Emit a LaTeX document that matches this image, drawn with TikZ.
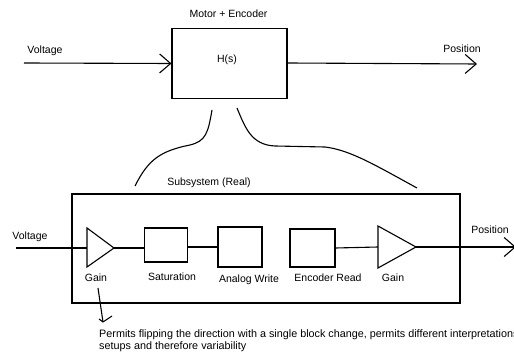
\documentclass[tikz,border=0pt]{standalone}
\usepackage{fontspec}
\setmainfont{Liberation Sans}
\usetikzlibrary{arrows.meta}
\begin{document}
\begin{tikzpicture}[x=1pt,y=-1pt,
  every node/.style={font=\fontsize{10.5}{12.5}\selectfont, inner sep=0pt},
  ln/.style={line width=1.1pt},
  blk/.style={draw, line width=1.1pt, minimum width=#1, inner sep=0pt},
  arr/.style={ln, -{Straight Barb[length=11pt,width=19pt,line width=1.1pt]}}]
\useasboundingbox (0,0) rectangle (514,355);
\clip (0,0) rectangle (514,355);
% top
\node[blk=115pt, minimum height=70pt] (H) at (229.5,63.5) {};
\node (Hs) at (227,60) {H(s)};
\node (mt) at (228.5,14) {Motor + Encoder};
\coordinate (vin) at (24,63);
\coordinate (pout) at (477,64);
\draw[arr] (vin) -- (H.west);
\draw[arr] (H.east |- 63,63) -- (pout);
\node (vt) at (45,51) {Voltage};
\node (pt) at (462,49) {Position};
% curves
\coordinate (c1a) at (212,110);
\coordinate (c1b) at (135,186);
\coordinate (c2a) at (237,108);
\coordinate (c2b) at (417,188);
\draw[ln] (c1a) .. controls (208,133) and (206,141) .. (190,145) .. controls (160,151) and (148,160) .. (c1b);
\draw[ln] (c2a) .. controls (245,127) and (251,145) .. (275,146) -- (325,147) .. controls (350,150) and (375,165) .. (c2b);
% subsystem
\node[blk=388pt, minimum height=109pt] (sub) at (266,248.5) {};
\node (subt) at (209,183) {Subsystem (Real)};
% gains
\coordinate (g1l) at (87,248);
\coordinate (g1t) at (114,248);
\draw[ln, line join=miter] (87,228) -- (g1t) -- (87,267) -- cycle;
\coordinate (g2l) at (378,247);
\coordinate (g2t) at (416,247);
\draw[ln, line join=miter] (378,226) -- (g2t) -- (378,268) -- cycle;
% boxes
\node[blk=43pt, minimum height=34pt] (sat) at (166,245) {};
\node[blk=44pt, minimum height=40pt] (aw) at (240,247) {};
\node[blk=45pt, minimum height=38pt] (er) at (312.5,248) {};
% connectors
\coordinate (vin2) at (16,248);
\coordinate (pout2) at (516,247);
\draw[ln] (vin2) -- (g1l);
\draw[ln] (g1t) -- (g1t -| sat.west);
\draw[ln] (sat.east |- 0,247) -- (aw.west |- 0,247);
\draw[ln] (er.east |- 0,248) -- (g2l);
\draw[arr] (g2t) -- (pout2);
% labels
\node (vt2) at (30,237) {Voltage};
\node (pt2) at (490,230) {Position};
\node (gl1) at (96,278) {Gain};
\node (satl) at (172,277) {Saturation};
\node (awl) at (249,280) {Analog Write};
\node (erl) at (328,278) {Encoder Read};
\node (gl2) at (393,278) {Gain};
% annotation
\coordinate (na) at (98,288);
\coordinate (nb) at (103,322);
\coordinate (nl) at (99,319);
\coordinate (nr) at (112,316);
\draw[ln, line join=round] (na) -- (nb);
\draw[ln, line join=round] (nl) -- (nb) -- (nr);
\node[anchor=west, align=left, font=\fontsize{10.8}{12}\selectfont] (note) at (99,341) {Permits flipping the direction with a single block change, permits different interpretations/\\setups and therefore variability};
\end{tikzpicture}
\end{document}
